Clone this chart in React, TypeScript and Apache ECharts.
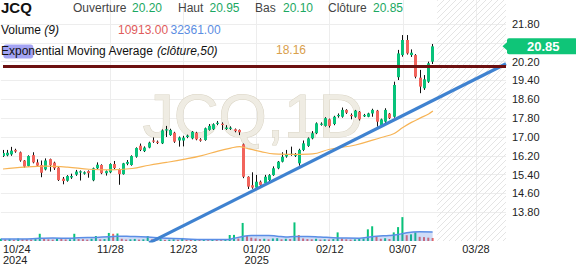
import { useEffect, useRef } from 'react';
import * as echarts from 'echarts';

const FONT = "'Liberation Sans', Arial, sans-serif";
const GREEN = '#08c27a';
const RED = '#f2645c';

// Candles: [open, close, low, high]
const ohlc: number[][] = [
  [16.19, 16.32, 16.15, 16.45], [16.22, 16.33, 16.18, 16.45], [16.26, 16.42, 16.2, 16.58], [16.45, 16.38, 16.33, 16.5],
  [16.35, 16.0, 15.95, 16.38], [16.0, 15.74, 15.7, 16.02], [15.77, 16.19, 15.74, 16.22], [16.23, 15.92, 15.88, 16.35],
  [15.92, 15.78, 15.74, 16.05], [15.81, 15.48, 15.29, 16.0], [15.62, 16.0, 15.58, 16.09], [16.06, 15.8, 15.53, 16.08],
  [15.91, 15.67, 15.6, 15.95], [15.7, 15.17, 15.13, 15.72], [15.23, 15.13, 14.99, 15.3], [15.14, 15.34, 15.1, 15.38],
  [15.28, 15.34, 15.22, 15.44], [15.4, 15.53, 15.35, 15.6], [15.5, 15.53, 15.15, 15.58], [15.44, 15.5, 15.4, 15.54],
  [15.55, 15.46, 15.27, 15.58], [15.16, 15.67, 15.12, 15.7], [15.67, 15.82, 15.64, 15.92], [15.81, 15.46, 15.42, 15.84],
  [15.46, 15.55, 15.36, 15.58], [15.5, 15.85, 15.46, 15.88], [15.85, 15.68, 15.64, 15.98], [15.63, 15.42, 14.97, 15.66],
  [15.42, 15.88, 15.4, 15.9], [15.86, 15.94, 15.8, 16.02], [15.81, 16.19, 15.78, 16.22], [16.16, 16.53, 16.12, 16.56],
  [16.63, 16.45, 16.4, 16.72], [16.4, 16.55, 16.36, 16.6], [16.55, 16.76, 16.52, 16.8], [16.85, 16.8, 16.75, 16.98],
  [16.8, 16.75, 16.7, 16.85], [16.73, 17.28, 16.7, 17.32], [17.28, 17.32, 17.0, 17.47], [17.08, 17.3, 17.05, 17.35],
  [17.18, 16.8, 16.75, 17.22], [16.85, 16.98, 16.59, 17.02], [16.85, 16.97, 16.6, 17.05], [17.0, 17.06, 16.95, 17.1],
  [16.94, 17.22, 16.9, 17.25], [17.18, 16.9, 16.86, 17.22], [16.9, 16.84, 16.8, 16.95], [16.87, 17.37, 16.84, 17.4],
  [17.3, 17.47, 17.27, 17.55], [17.33, 17.54, 17.3, 17.58], [17.56, 17.6, 17.5, 17.68], [17.55, 17.52, 17.3, 17.62],
  [17.34, 17.4, 17.3, 17.5], [17.35, 17.39, 17.3, 17.45], [17.33, 17.25, 17.2, 17.36], [17.3, 17.2, 17.08, 17.32],
  [16.69, 15.31, 15.25, 16.72], [15.31, 14.89, 14.79, 15.33], [14.95, 14.85, 14.8, 15.5], [14.85, 15.1, 14.82, 15.39],
  [15.1, 14.96, 14.92, 15.15], [15.03, 15.31, 14.98, 15.39], [15.17, 15.38, 15.12, 15.42], [15.38, 15.67, 15.35, 15.75],
  [15.67, 15.95, 15.63, 15.98], [15.95, 16.16, 15.92, 16.35], [16.17, 16.27, 16.12, 16.45], [16.25, 16.27, 16.2, 16.59],
  [16.2, 16.27, 16.15, 16.32], [15.88, 16.45, 15.78, 16.5], [16.45, 16.73, 16.4, 16.85], [16.62, 16.94, 16.58, 16.98],
  [16.94, 17.16, 16.9, 17.25], [17.16, 17.58, 17.12, 17.62], [17.52, 17.56, 17.48, 17.62], [17.47, 17.8, 17.44, 17.84],
  [17.75, 17.47, 17.4, 17.78], [17.55, 17.86, 17.5, 17.9], [17.9, 17.92, 17.82, 18.0], [17.86, 18.15, 17.82, 18.25],
  [18.15, 18.03, 17.98, 18.18], [17.92, 17.9, 17.75, 18.0], [17.86, 18.12, 17.82, 18.15], [18.07, 17.75, 17.7, 18.1],
  [17.88, 17.93, 17.85, 17.98], [17.86, 18.0, 17.84, 18.03], [18.0, 18.15, 17.86, 18.2], [18.12, 17.65, 17.44, 18.15],
  [17.5, 17.75, 17.46, 17.78], [17.65, 18.15, 17.6, 18.22], [17.99, 17.8, 17.76, 18.02], [17.86, 19.21, 17.82, 19.35],
  [19.54, 20.55, 19.42, 20.7], [20.48, 21.12, 20.41, 21.33], [21.12, 20.55, 20.5, 21.33], [20.48, 20.58, 20.4, 20.72],
  [20.48, 19.56, 19.49, 20.52], [19.52, 19.14, 18.86, 19.85], [19.07, 19.45, 19.0, 19.63], [19.35, 20.13, 19.3, 20.2],
  [20.2, 20.85, 20.1, 20.95],
];

const volumes: number[] = [
  8000, 6000, 7500, 5000, 9000, 7000, 6500, 5500, 7000, 26000,
  8000, 6000, 5000, 9000, 7000, 5500, 6000, 26000, 7000, 6500,
  5000, 8000, 18000, 6000, 7000, 29000, 26000, 27000, 8000, 5000,
  6000, 7500, 5000, 6000, 18000, 6000, 5000, 6500, 4000, 5000,
  6000, 4500, 11000, 5000, 4000, 6000, 3500, 4500, 3000, 4000,
  3500, 3000, 4000, 21600, 22000, 9000, 65000, 18000, 12000, 9000,
  7000, 8000, 6000, 9000, 10000, 6000, 8000, 7000, 67000, 21600,
  9000, 7000, 6000, 8000, 5000, 6000, 5000, 7000, 31000, 9000,
  6000, 5000, 6000, 7000, 9000, 42000, 53000, 16000, 8000, 10000,
  7000, 31000, 50000, 86000, 21000, 24000, 31000, 15000, 14000, 12000,
  10913,
];

// EMA(close, 50): [bar index, value]
const emaPoints: number[][] = [
  [0, 15.64], [5, 15.72], [10, 15.76], [15, 15.72], [20, 15.63], [25, 15.6], [30, 15.66], [34, 15.8],
  [38, 15.92], [42, 16.05], [46, 16.2], [50, 16.4], [53, 16.53], [55, 16.59], [57, 16.5], [60, 16.38],
  [63, 16.28], [68, 16.26], [72, 16.28], [76, 16.48], [82, 16.66], [88, 16.98], [91, 17.15], [93, 17.4],
  [95, 17.62], [97, 17.8], [99, 17.98], [100, 18.1],
];

// Volume moving average (9): [bar index, value]
const volMaPoints: number[][] = [
  [0, 7500], [5, 7200], [9, 9500], [12, 10500], [16, 10000], [18, 12000], [22, 13000], [25, 15000],
  [27, 17500], [30, 16500], [34, 14000], [37, 10500], [42, 8000], [47, 5500], [52, 5500], [54, 9500],
  [56, 16500], [58, 19500], [62, 20000], [64, 17500], [66, 14500], [68, 16000], [71, 16500], [74, 14500],
  [77, 12000], [80, 10500], [83, 10000], [85, 13500], [87, 17500], [90, 19500], [92, 23000], [94, 30000],
  [97, 33000], [100, 32361],
];

const xTickIndex = [0, 25, 42, 59, 76, 93, 110];
const xTickText = ['10/24\n2024', '11/28', '12/23', '01/20\n2025', '02/12', '03/07', '03/28'];

const trendLine: number[][] = [[34, 12.502], [117, 20.113]];
const resistanceLevel = 20.0;
const lastClose = 20.85;

const header = { open: '20.20', high: '20.95', low: '20.10', close: '20.85', vol: '10913.00', volMa: '32361.00', ema: '18.16' };

const TRADING_DAYS = 101;
const TOTAL_SLOTS = 118;
const holidays = ['2024-12-25', '2024-12-26', '2025-01-01'];

function buildCategories(): string[] {
  const out: string[] = [];
  const d = new Date(Date.UTC(2024, 9, 24));
  const fmt = (dt: Date) => dt.toISOString().slice(0, 10);
  while (out.length < TRADING_DAYS) {
    const wd = d.getUTCDay();
    if (wd !== 0 && wd !== 6 && !holidays.includes(fmt(d))) out.push(fmt(d));
    d.setUTCDate(d.getUTCDate() + 1);
  }
  while (out.length < TOTAL_SLOTS) {
    out.push(fmt(d));
    d.setUTCDate(d.getUTCDate() + 1);
  }
  return out;
}

const categories = buildCategories();

// Layout (pixels)
const K = 18.83 / 0.8; // px per price unit
const Y_2180 = 24;
const PLOT_BOTTOM = 241;
const MAIN_MAX = 21.8 + Y_2180 / K;
const MAIN_MIN = 21.8 - (PLOT_BOTTOM - Y_2180) / K;
const AX_TOP = Y_2180 - 0.8 * K;
const AX_BOTTOM_Y = Y_2180 + 8.8 * K;

const hatchSvg = "<svg xmlns='http://www.w3.org/2000/svg' width='6' height='6'><path d='M0,6 L6,0 M-1,1 L1,-1 M5,7 L7,5' stroke='#e4e4e4' stroke-width='1'/></svg>";
const hatchUrl = 'data:image/svg+xml;charset=utf-8,' + encodeURIComponent(hatchSvg);

export default function App() {
  const ref = useRef<HTMLDivElement>(null);
  useEffect(() => {
    if (!ref.current) return;
    const chart = echarts.init(ref.current, null, { renderer: 'svg' });

    const candleData = ohlc.map((r, i) => [i, r[0], r[1], r[2], r[3]]);
    const volData = volumes.map((v, i) => ({
      value: v,
      itemStyle: { color: i === 0 || v >= volumes[i - 1] ? GREEN : RED },
    }));

    const txt = (x: number, y: number, text: string, fill: string, extra: any = {}) => ({
      type: 'text', x, y, z: 100,
      style: { text, fill, fontFamily: FONT, fontSize: 12, verticalAlign: 'middle', ...extra },
    });

    const option: any = {
      animation: false,
      backgroundColor: '#ffffff',
      grid: [
        { left: 0.9, right: 70, top: 0, bottom: 268 - PLOT_BOTTOM },
        { left: 0.9, right: 70, top: AX_TOP, bottom: 268 - AX_BOTTOM_Y },
        { left: 0.9, right: 70, top: 191, bottom: 268 - PLOT_BOTTOM },
      ],
      xAxis: [
        {
          type: 'category', gridIndex: 0, data: categories, boundaryGap: false,
          axisLine: { show: false }, axisTick: { show: false },
          axisLabel: {
            interval: (i: number) => xTickIndex.includes(i),
            formatter: (_v: string, i: number) => xTickText[xTickIndex.indexOf(i)] ?? '',
            color: '#222', fontSize: 11, fontFamily: FONT, margin: 3, lineHeight: 10.5,
            alignMinLabel: 'left', hideOverlap: false,
          },
          splitLine: {
            show: true,
            interval: (i: number) => xTickIndex.includes(i) && i !== 0,
            lineStyle: { color: '#ededed', width: 1 },
          },
        },
        { type: 'category', gridIndex: 1, data: categories, boundaryGap: false, show: false },
        { type: 'category', gridIndex: 2, data: categories, boundaryGap: false, show: false },
      ],
      yAxis: [
        { type: 'value', gridIndex: 0, min: MAIN_MIN, max: MAIN_MAX, show: false, splitLine: { show: false } },
        {
          type: 'value', gridIndex: 1, position: 'right', min: 13.0, max: 22.6, interval: 0.8,
          axisLine: { show: false }, axisTick: { show: false },
          axisLabel: {
            showMinLabel: false, showMaxLabel: false, margin: 6,
            formatter: (v: number) => v.toFixed(2), color: '#222', fontSize: 11, fontFamily: FONT,
          },
          splitLine: { show: true, showMinLine: false, showMaxLine: false, lineStyle: { color: '#ededed', width: 1 } },
        },
        { type: 'value', gridIndex: 2, min: 0, max: 180000, show: false, splitLine: { show: false } },
      ],
      graphic: [
        {
          type: 'text', x: 253, y: 115, z: 1, silent: true,
          style: {
            text: 'JCQ,1D', fontFamily: FONT, fontSize: 62, fill: '#efece3', stroke: '#d9d3c3', lineWidth: 1,
            align: 'center', verticalAlign: 'middle',
          },
        },
        txt(1, 7.5, 'JCQ', '#111', { fontSize: 15, fontWeight: 'bold' }),
        txt(73, 8, 'Ouverture', '#444'),
        txt(132, 7.5, header.open, '#1ba862'),
        txt(178, 8, 'Haut', '#444'),
        txt(209.5, 7.5, header.high, '#1ba862'),
        txt(255, 8, 'Bas', '#444'),
        txt(283, 7.5, header.low, '#1ba862'),
        txt(328, 8, 'Clôture', '#444'),
        txt(373, 7.5, header.close, '#1ba862'),
        {
          type: 'text', x: 1, y: 30, z: 100,
          style: {
            text: '{n|Volume }{i|(9)}', verticalAlign: 'middle',
            rich: {
              n: { fontFamily: FONT, fontSize: 12, fill: '#111' },
              i: { fontFamily: FONT, fontSize: 12, fill: '#111', fontStyle: 'italic' },
            },
          },
        },
        txt(118, 29.7, header.vol, '#e05b5b'),
        txt(170.5, 29.7, header.volMa, '#5b8de2'),
        {
          type: 'rect', z: 99, shape: { x: 3.3, y: 44.5, width: 30, height: 14, r: 3 },
          style: { fill: '#a3a3f3' },
        },
        {
          type: 'text', x: 1, y: 51, z: 100,
          style: {
            text: '{n|Exponential Moving Average }{i|(clôture,50)}', verticalAlign: 'middle',
            rich: {
              n: { fontFamily: FONT, fontSize: 12, fill: '#111' },
              i: { fontFamily: FONT, fontSize: 12, fill: '#111', fontStyle: 'italic' },
            },
          },
        },
        txt(276, 49.5, header.ema, '#d9a04c'),
      ],
      series: [
        {
          type: 'custom', name: 'JCQ', xAxisIndex: 0, yAxisIndex: 0, z: 2, clip: true,
          data: candleData,
          encode: { x: 0, y: [1, 2, 3, 4] },
          renderItem: (_p: any, api: any) => {
            const i = api.value(0);
            const o = api.value(1), c = api.value(2), l = api.value(3), h = api.value(4);
            const pt = api.coord([i, Math.max(o, c)]);
            const pb = api.coord([i, Math.min(o, c)]);
            const ph = api.coord([i, h]);
            const pl = api.coord([i, l]);
            const x = Math.round(pt[0] - 0.5) + 0.5;
            let y0 = pt[1], y1 = pb[1];
            if (y1 - y0 < 1.2) { const m = (y0 + y1) / 2; y0 = m - 0.6; y1 = m + 0.6; }
            const color = c >= o ? GREEN : RED;
            return {
              type: 'group',
              children: [
                { type: 'line', shape: { x1: x, y1: ph[1], x2: x, y2: pl[1] }, style: { stroke: '#111', lineWidth: 1 } },
                { type: 'rect', shape: { x: x - 1.5, y: y0, width: 3, height: y1 - y0 }, style: { fill: color } },
              ],
            };
          },
        },
        {
          type: 'line', name: 'EMA', xAxisIndex: 0, yAxisIndex: 0, z: 3,
          data: emaPoints, smooth: 0.4, symbol: 'none',
          lineStyle: { color: '#f7b456', width: 1.2 },
          markArea: {
            silent: true,
            itemStyle: { color: { image: hatchUrl, repeat: 'repeat', imageWidth: 6, imageHeight: 6 } },
            data: [[{ xAxis: categories[101] }, { xAxis: categories[TOTAL_SLOTS - 1] }]],
          },
          markLine: {
            silent: true, symbol: ['none', 'none'], animation: false,
            data: [
              { yAxis: resistanceLevel, lineStyle: { color: '#6d1010', width: 3, type: 'solid' }, label: { show: false } },
            ],
          },
        },
        {
          type: 'line', name: 'Trend', xAxisIndex: 0, yAxisIndex: 0, z: 4, clip: true,
          data: trendLine, symbol: 'none',
          lineStyle: { color: '#3f82d0', width: 3.2 },
        },
        {
          type: 'line', name: 'LastBadge', xAxisIndex: 0, yAxisIndex: 0, z: 10, data: [], symbol: 'none',
          markLine: {
            silent: true, symbol: ['none', 'none'], animation: false,
            data: [{
              yAxis: lastClose,
              lineStyle: { color: 'rgba(0,0,0,0)', width: 1, type: 'solid' },
              label: {
                show: true, position: 'end', distance: 1, formatter: lastClose.toFixed(2),
                color: '#fff', fontWeight: 'bold', fontSize: 13, fontFamily: FONT,
                backgroundColor: '#0fc578', padding: [2, 18, 1, 20], lineHeight: 13, borderRadius: 2,
              },
            }],
          },
          markPoint: {
            silent: true, symbol: 'triangle', symbolSize: [9, 5], symbolRotate: 90,
            symbolOffset: [-1, 0], label: { show: false },
            itemStyle: { color: '#0fc578' },
            data: [{ coord: [TOTAL_SLOTS - 1, lastClose] }],
          },
        },
        { type: 'line', xAxisIndex: 1, yAxisIndex: 1, data: [], symbol: 'none' },
        {
          type: 'bar', name: 'Volume', xAxisIndex: 2, yAxisIndex: 2, z: 2, barWidth: 2,
          data: volData,
        },
        {
          type: 'line', name: 'VolMA', xAxisIndex: 2, yAxisIndex: 2, z: 3,
          data: volMaPoints, smooth: 0.5, symbol: 'none',
          lineStyle: { color: '#5b8ee6', width: 1.5 },
          areaStyle: { color: 'rgba(74,125,226,0.38)' },
        },
      ],
    };
    chart.setOption(option);
    return () => chart.dispose();
  }, []);

  return (
    <div
      ref={ref}
      style={{ position: 'fixed', left: 0, top: 0, width: 576, height: 268, background: '#fff' }}
    />
  );
}
